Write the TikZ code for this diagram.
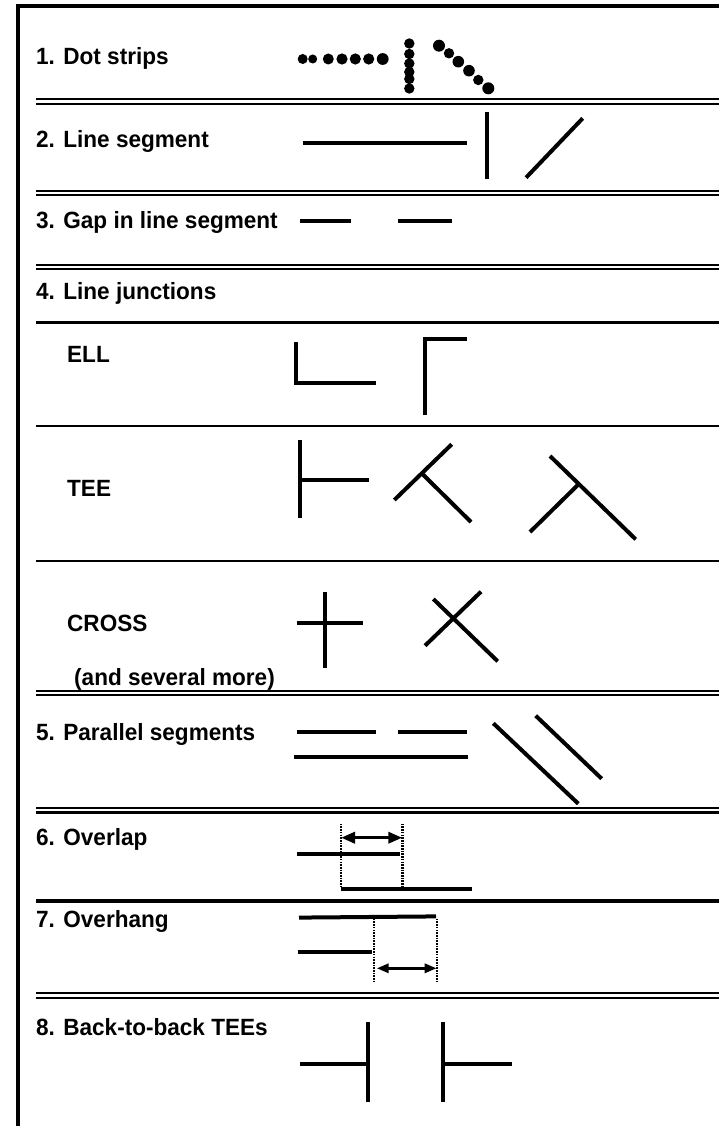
\documentclass[tikz,border=0pt]{standalone}
\usepackage{fontspec}
\setmainfont{Liberation Sans}[FakeStretch=0.96]
\usetikzlibrary{arrows.meta}
\tikzset{
  lbl/.style={anchor=base west, inner sep=0pt, font=\fontsize{23.5}{28}\selectfont\bfseries},
  frameline/.style={line width=3.2pt},
  sepa/.style={line width=1.8pt},
  sepb/.style={line width=2.4pt},
  sepsingle/.style={line width=2.2pt},
  septhick/.style={line width=4.2pt},
  fig/.style={line width=4pt},
  blob/.style={fill=black},
  guide/.style={line width=2.4pt, dash pattern=on 1.6pt off 1.1pt},
  dimarrow/.style={line width=3.4pt, {Triangle[length=14pt,width=11pt]}-{Triangle[length=14pt,width=11pt]}},
  dimarrowsmall/.style={line width=3pt, {Triangle[length=12pt,width=9pt]}-{Triangle[length=12pt,width=9pt]}}
}
\newcommand\dsepline[1]{%
  \draw[sepa] (36,#1) -- (719,#1);
  \draw[sepb] (36,{#1+4.5}) -- (719,{#1+4.5});}
\begin{document}
\begin{tikzpicture}[x=1pt,y=-1pt]
\useasboundingbox (0,0) rectangle (719,1126);
% frame
\draw[frameline] (18,1126) -- (18,6) -- (719,6);
% separators
\dsepline{99.3}
\dsepline{190.7}
\dsepline{264.7}
\draw[sepsingle] (36,322.5) -- (719,322.5);
\draw[sepsingle] (36,426) -- (719,426);
\draw[sepsingle] (36,561) -- (719,561);
\dsepline{690.7}
\dsepline{808}
\draw[septhick] (36,901) -- (719,901);
\dsepline{993.3}
% labels
\node[lbl] (t1) at (36,64.5) {1. Dot strips};
\node[lbl] (t2) at (36,147.5) {2. Line segment};
\node[lbl] (t3) at (36,228.5) {3. Gap in line segment};
\node[lbl] (t4) at (36,299.5) {4. Line junctions};
\node[lbl] (tell) at (67,362.5) {ELL};
\node[lbl] (ttee) at (67,496.7) {TEE};
\node[lbl] (tcross) at (67,631.7) {CROSS};
\node[lbl] (tmore) at (74,685) {(and several more)};
\node[lbl] (t5) at (36,740.5) {5. Parallel segments};
\node[lbl] (t6) at (36,845) {6. Overlap};
\node[lbl] (t7) at (36,927.5) {7. Overhang};
\node[lbl] (t8) at (36,1035.5) {8. Back-to-back TEEs};
% 1. dot strips
\foreach \x/\r in {302.7/5,312.7/4.5,328.3/5.5,342/5.6,355.3/5.6,368.7/5.6,382.7/5.9}
  \fill[blob] (\x,59) circle (\r);
\foreach \y in {43.5,54,63.5,72,79,88.5}
  \fill[blob] (409.3,\y) circle (5.2);
\foreach \x/\y/\r in {439/45.7/6,449/53.3/5.2,458.3/61.7/5.8,469/70.7/5.8,478.3/80/5.2,488.3/88.3/6}
  \fill[blob] (\x,\y) circle (\r);
% 2. line segment
\draw[fig] (303,143.3) -- (467,143.3);
\draw[fig] (486.7,112) -- (486.7,179);
\draw[fig] (526,177.7) -- (582.7,118.3);
% 3. gap
\draw[fig] (300,221.3) -- (350.7,221.3);
\draw[fig] (398.3,221.3) -- (451.7,221.3);
% ELL
\draw[fig] (296,342) -- (296,383.3) -- (376,383.3);
\draw[fig] (425,415) -- (425,339) -- (466.7,339);
% TEE
\draw[fig] (300,440) -- (300,517.7);
\draw[fig] (300,480.3) -- (369.3,480.3);
\draw[fig] (394.3,500) -- (451.7,444.3);
\draw[fig] (421.7,473.3) -- (471,522);
\draw[fig] (550,456) -- (635.7,539.3);
\draw[fig] (530,532) -- (578.3,484.5);
% CROSS
\draw[fig] (325,592.3) -- (325,668.3);
\draw[fig] (296.7,623.3) -- (362.7,623.3);
\draw[fig] (433.3,599) -- (497.7,661.3);
\draw[fig] (425,645.7) -- (481,591.7);
% 5. parallel
\draw[fig] (296.7,731.7) -- (376,731.7);
\draw[fig] (398.3,731.7) -- (466.7,731.7);
\draw[fig] (294.3,757.3) -- (468.3,757.3);
\draw[fig] (493.3,723.3) -- (578.3,803.7);
\draw[fig] (535.7,715.7) -- (601.7,778.7);
% 6. overlap
\draw[fig] (296.7,853.7) -- (400,853.7);
\draw[fig] (341,888.7) -- (471.7,888.7);
\draw[guide] (340.7,823.7) -- (340.7,888);
\draw[guide] (402.3,823.7) -- (402.3,888);
\coordinate (ola) at (341,837.7);
\coordinate (olb) at (402.3,837.7);
\draw[dimarrow] (ola) -- (olb);
% 7. overhang
\draw[fig] (299,917.6) -- (436,916.4);
\draw[fig] (297.7,952) -- (372.3,952);
\draw[guide] (374,918.7) -- (374,981);
\draw[guide] (436.7,918.7) -- (436.7,981);
\coordinate (oha) at (376.7,968.3);
\coordinate (ohb) at (436.7,968.3);
\draw[dimarrowsmall] (oha) -- (ohb);
% 8. back-to-back
\draw[fig] (368.3,1022) -- (368.3,1101.7);
\draw[fig] (300,1064) -- (368.3,1064);
\draw[fig] (443.3,1022) -- (443.3,1101.7);
\draw[fig] (443.3,1064) -- (512.3,1064);
\end{tikzpicture}
\end{document}
